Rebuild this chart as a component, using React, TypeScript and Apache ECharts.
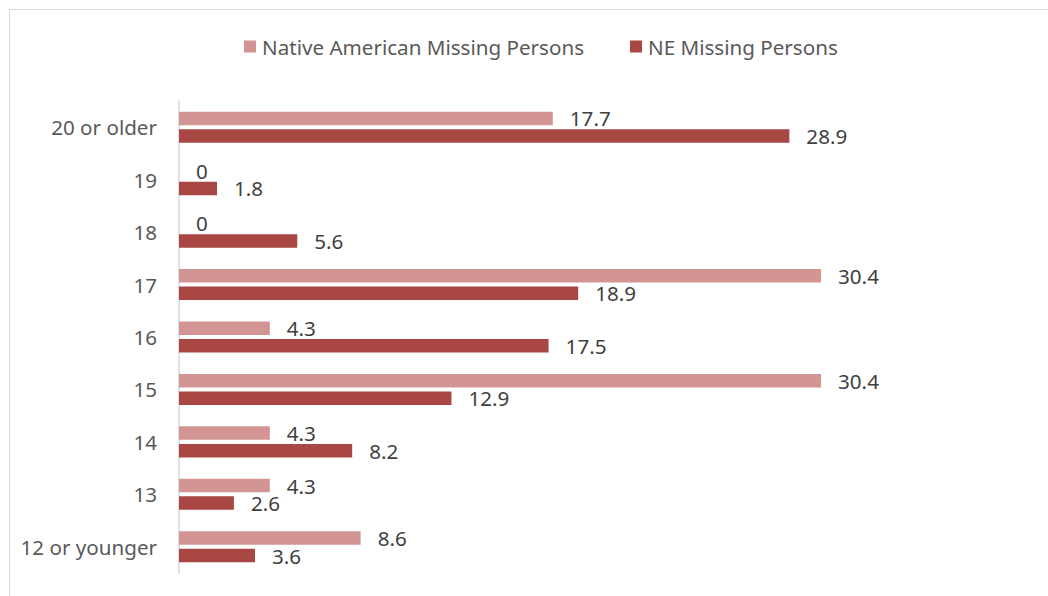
import React, { useEffect, useRef } from "react";
import * as echarts from "echarts";

const categories = ["12 or younger", "13", "14", "15", "16", "17", "18", "19", "20 or older"];
const nativeAmerican = [8.6, 4.3, 4.3, 30.4, 4.3, 30.4, 0, 0, 17.7];
const neMissing = [3.6, 2.6, 8.2, 12.9, 17.5, 18.9, 5.6, 1.8, 28.9];
const seriesNames = ["Native American Missing Persons", "NE Missing Persons"];

const FONT = "'Noto Sans', sans-serif";
const FS = 20.6;

export default function App() {
  const ref = useRef<HTMLDivElement>(null);
  useEffect(() => {
    const chart = echarts.init(ref.current!, null, { renderer: "svg" });
    const label = {
      show: true,
      position: "right" as const,
      distance: 17,
      color: "#404040",
      fontSize: FS,
      fontFamily: FONT,
    };
    chart.setOption({
      animation: false,
      graphic: [
        {
          type: "rect",
          shape: { x: 9.5, y: 9.5, width: 1200, height: 800 },
          style: { fill: "none", stroke: "#D9D9D9", lineWidth: 1 },
          silent: true,
        },
      ],
      legend: {
        top: 31,
        left: 239,
        itemWidth: 12,
        itemHeight: 12,
        itemGap: 46,
        icon: "rect",
        textStyle: { color: "#595959", fontSize: FS, fontFamily: FONT, padding: [0, 0, 0, 1] },
        data: seriesNames,
      },
      grid: { left: 179, top: 101, width: 739.2, height: 472, containLabel: false },
      xAxis: {
        type: "value",
        min: 0,
        max: 35,
        show: false,
      },
      yAxis: {
        type: "category",
        data: categories,
        axisLine: { show: true, lineStyle: { color: "#D9D9D9", width: 1.5 } },
        axisTick: { show: false },
        axisLabel: { color: "#595959", fontSize: FS, fontFamily: FONT, margin: 22 },
      },
      series: [
        {
          name: seriesNames[0],
          type: "bar",
          data: nativeAmerican,
          barWidth: 13.5,
          barGap: "30%",
          itemStyle: { color: "#D39494" },
          label,
        },
        {
          name: seriesNames[1],
          type: "bar",
          data: neMissing,
          barWidth: 13.5,
          barGap: "30%",
          itemStyle: { color: "#A94745" },
          label,
        },
      ],
    });
    return () => chart.dispose();
  }, []);
  return (
    <div
      ref={ref}
      style={{ position: "fixed", left: 0, top: 0, width: 1048, height: 596, background: "#fff" }}
    />
  );
}
